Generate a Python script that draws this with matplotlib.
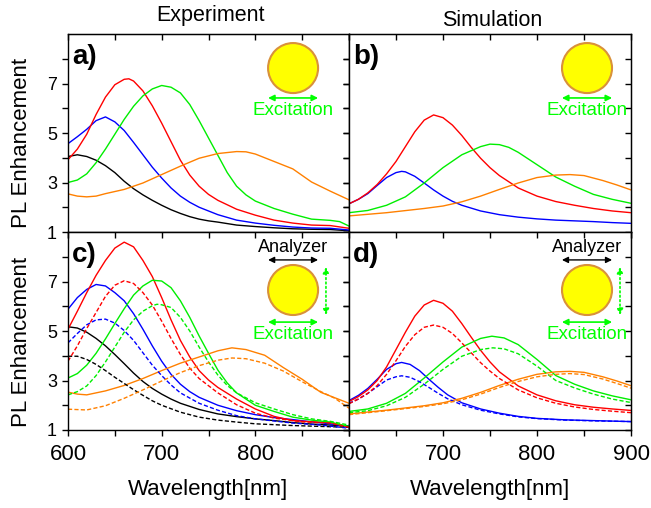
import numpy as np
import matplotlib
matplotlib.use("Agg")
import matplotlib.pyplot as plt
from matplotlib.patches import Ellipse

plt.rcParams['font.family'] = ['Liberation Sans', 'DejaVu Sans']

# colours of the nanorod series
BLACK = "#000000"
BLUE = "#0000ff"
RED = "#ff0000"
GREEN = "#00ee00"
ORANGE = "#ff8000"
ICON_GREEN = "#00ff00"

# ---- panel a) experiment, excitation only
a_black_x = [600, 610, 620, 630, 640, 650, 660, 670, 680, 690, 700, 710, 720, 730, 740, 750, 760, 780, 800, 820, 840, 860, 880, 900]
a_black_y = [4.05, 4.12, 4.05, 3.90, 3.68, 3.40, 3.05, 2.75, 2.50, 2.28, 2.08, 1.90, 1.75, 1.62, 1.52, 1.45, 1.40, 1.28, 1.22, 1.17, 1.13, 1.11, 1.10, 1.05]
a_blue_x = [600, 610, 620, 630, 640, 650, 660, 670, 680, 690, 700, 710, 720, 730, 740, 750, 760, 780, 800, 820, 840, 860, 880, 900]
a_blue_y = [4.57, 4.85, 5.15, 5.50, 5.65, 5.45, 5.10, 4.62, 4.12, 3.62, 3.18, 2.78, 2.45, 2.20, 2.00, 1.85, 1.70, 1.48, 1.36, 1.27, 1.20, 1.16, 1.15, 1.08]
a_red_x = [600, 610, 620, 630, 640, 650, 660, 665, 670, 680, 690, 700, 710, 720, 730, 740, 750, 760, 780, 800, 820, 840, 860, 880, 900]
a_red_y = [3.92, 4.35, 4.95, 5.75, 6.45, 6.95, 7.17, 7.19, 7.10, 6.70, 6.10, 5.40, 4.65, 3.90, 3.30, 2.85, 2.52, 2.28, 1.92, 1.68, 1.48, 1.36, 1.28, 1.26, 1.15]
a_green_x = [600, 610, 620, 630, 640, 650, 660, 670, 680, 690, 700, 710, 720, 730, 740, 750, 760, 770, 780, 790, 800, 820, 840, 860, 880, 890, 900]
a_green_y = [3.00, 3.10, 3.35, 3.80, 4.35, 4.95, 5.55, 6.08, 6.50, 6.78, 6.92, 6.85, 6.62, 6.15, 5.50, 4.80, 4.10, 3.40, 2.85, 2.50, 2.25, 1.95, 1.72, 1.52, 1.47, 1.42, 1.24]
a_orange_x = [600, 610, 620, 630, 640, 660, 680, 700, 720, 740, 760, 780, 790, 800, 820, 840, 860, 880, 900]
a_orange_y = [2.54, 2.45, 2.42, 2.45, 2.55, 2.72, 2.98, 3.32, 3.66, 3.98, 4.17, 4.25, 4.24, 4.15, 3.85, 3.55, 3.02, 2.65, 2.30]

# ---- panel b) simulation, excitation only
b_blue_x = [600, 610, 620, 630, 640, 650, 656, 660, 670, 680, 690, 700, 710, 720, 740, 760, 780, 800, 820, 840, 860, 880, 900]
b_blue_y = [2.14, 2.32, 2.55, 2.88, 3.20, 3.40, 3.45, 3.43, 3.25, 2.98, 2.70, 2.45, 2.24, 2.08, 1.85, 1.70, 1.60, 1.53, 1.48, 1.45, 1.42, 1.38, 1.35]
b_red_x = [600, 610, 620, 630, 640, 650, 660, 670, 680, 690, 700, 710, 720, 730, 740, 750, 760, 780, 800, 820, 840, 860, 880, 900]
b_red_y = [2.14, 2.32, 2.58, 2.92, 3.35, 3.85, 4.45, 5.05, 5.52, 5.73, 5.62, 5.32, 4.90, 4.42, 3.98, 3.60, 3.28, 2.78, 2.45, 2.23, 2.08, 1.95, 1.85, 1.78]
b_green_x = [600, 620, 640, 660, 680, 700, 720, 740, 750, 760, 770, 780, 800, 820, 840, 860, 880, 900]
b_green_y = [1.78, 1.87, 2.08, 2.42, 2.98, 3.60, 4.12, 4.45, 4.55, 4.53, 4.42, 4.22, 3.72, 3.22, 2.85, 2.52, 2.32, 2.16]
b_orange_x = [600, 640, 680, 700, 720, 740, 760, 780, 800, 820, 835, 850, 870, 885, 900]
b_orange_y = [1.65, 1.78, 1.95, 2.05, 2.22, 2.45, 2.72, 2.98, 3.20, 3.30, 3.32, 3.28, 3.08, 2.90, 2.70]

# ---- panel c) experiment with analyzer (solid = parallel, dashed = perpendicular)
c_black_x = [600, 610, 620, 630, 640, 650, 660, 670, 680, 690, 700, 710, 720, 740, 760, 780, 800, 820, 840, 860, 880, 900]
c_black_y = [5.17, 5.12, 4.95, 4.70, 4.40, 4.05, 3.68, 3.30, 2.96, 2.68, 2.45, 2.25, 2.08, 1.83, 1.65, 1.54, 1.45, 1.38, 1.30, 1.24, 1.20, 1.16]
c_blue_x = [600, 610, 620, 630, 640, 650, 660, 670, 680, 690, 700, 710, 720, 730, 740, 760, 780, 800, 820, 840, 860, 880, 900]
c_blue_y = [5.88, 6.35, 6.68, 6.88, 6.82, 6.55, 6.22, 5.70, 5.07, 4.40, 3.78, 3.25, 2.85, 2.55, 2.32, 2.00, 1.78, 1.62, 1.50, 1.42, 1.33, 1.25, 1.14]
c_red_x = [600, 610, 620, 630, 640, 650, 660, 670, 680, 690, 700, 710, 720, 730, 740, 750, 760, 780, 800, 820, 840, 860, 880, 900]
c_red_y = [5.07, 5.80, 6.55, 7.25, 7.85, 8.35, 8.59, 8.40, 7.85, 7.20, 6.35, 5.45, 4.62, 3.95, 3.40, 3.02, 2.72, 2.25, 1.85, 1.55, 1.38, 1.33, 1.30, 1.11]
c_green_x = [600, 610, 620, 630, 640, 650, 660, 670, 680, 690, 700, 710, 720, 730, 740, 750, 760, 770, 780, 800, 820, 840, 860, 880, 900]
c_green_y = [3.10, 3.28, 3.62, 4.10, 4.68, 5.30, 5.90, 6.45, 6.82, 7.05, 7.02, 6.75, 6.22, 5.55, 4.80, 4.10, 3.42, 2.90, 2.50, 2.00, 1.75, 1.52, 1.40, 1.32, 1.14]
c_orange_x = [600, 610, 620, 640, 660, 680, 700, 720, 740, 760, 775, 790, 810, 830, 850, 870, 885, 900]
c_orange_y = [2.53, 2.45, 2.42, 2.58, 2.80, 3.08, 3.40, 3.70, 3.95, 4.20, 4.32, 4.25, 4.02, 3.52, 3.05, 2.52, 2.30, 2.08]

c_black_d_x = [600, 610, 620, 630, 640, 650, 660, 670, 680, 690, 700, 720, 740, 760, 780, 800, 840, 900]
c_black_d_y = [3.98, 3.98, 3.85, 3.65, 3.40, 3.13, 2.88, 2.63, 2.40, 2.18, 2.00, 1.72, 1.52, 1.40, 1.32, 1.25, 1.18, 1.11]
c_blue_d_x = [600, 610, 620, 630, 640, 650, 660, 670, 680, 690, 700, 710, 720, 740, 760, 780, 800, 840, 870, 900]
c_blue_d_y = [4.52, 4.90, 5.25, 5.45, 5.48, 5.32, 5.02, 4.62, 4.12, 3.62, 3.20, 2.82, 2.50, 2.08, 1.80, 1.58, 1.45, 1.28, 1.20, 1.07]
c_red_d_x = [600, 610, 620, 630, 640, 650, 660, 670, 680, 690, 700, 710, 720, 730, 740, 760, 780, 800, 820, 850, 880, 900]
c_red_d_y = [3.78, 4.40, 5.10, 5.75, 6.40, 6.85, 7.03, 6.92, 6.55, 6.05, 5.40, 4.70, 4.05, 3.50, 3.08, 2.50, 2.02, 1.68, 1.48, 1.33, 1.28, 1.11]
c_green_d_x = [600, 610, 620, 630, 640, 650, 660, 670, 680, 690, 695, 700, 710, 720, 730, 740, 750, 760, 770, 780, 800, 820, 840, 860, 880, 900]
c_green_d_y = [2.42, 2.55, 2.78, 3.20, 3.75, 4.35, 4.95, 5.45, 5.80, 6.02, 6.08, 6.06, 5.95, 5.55, 5.00, 4.35, 3.75, 3.22, 2.80, 2.50, 2.10, 1.85, 1.62, 1.45, 1.35, 1.20]
c_orange_d_x = [600, 620, 640, 660, 680, 700, 720, 740, 760, 775, 790, 810, 830, 850, 870, 885, 900]
c_orange_d_y = [1.84, 1.81, 1.98, 2.28, 2.62, 2.98, 3.32, 3.60, 3.82, 3.91, 3.88, 3.70, 3.38, 2.95, 2.55, 2.28, 1.88]

# ---- panel d) simulation with analyzer
d_blue_x = [600, 610, 620, 630, 640, 650, 656, 665, 675, 685, 695, 705, 720, 740, 760, 780, 800, 830, 860, 900]
d_blue_y = [2.19, 2.40, 2.68, 3.05, 3.45, 3.68, 3.73, 3.65, 3.40, 3.05, 2.72, 2.42, 2.10, 1.85, 1.68, 1.55, 1.47, 1.41, 1.38, 1.34]
d_red_x = [600, 610, 620, 630, 640, 650, 660, 670, 680, 690, 700, 710, 720, 730, 740, 750, 760, 780, 800, 820, 840, 860, 880, 900]
d_red_y = [2.15, 2.35, 2.62, 3.00, 3.55, 4.25, 4.95, 5.60, 6.05, 6.24, 6.12, 5.80, 5.30, 4.75, 4.22, 3.75, 3.35, 2.78, 2.42, 2.18, 2.02, 1.92, 1.85, 1.79]
d_green_x = [600, 620, 640, 660, 680, 700, 720, 740, 752, 765, 780, 800, 820, 840, 860, 880, 900]
d_green_y = [1.75, 1.85, 2.08, 2.48, 3.10, 3.75, 4.35, 4.70, 4.79, 4.72, 4.45, 3.85, 3.20, 2.85, 2.58, 2.38, 2.22]
d_orange_x = [600, 640, 680, 700, 720, 740, 760, 780, 800, 820, 835, 850, 870, 885, 900]
d_orange_y = [1.65, 1.80, 1.98, 2.10, 2.28, 2.52, 2.80, 3.05, 3.25, 3.35, 3.37, 3.33, 3.15, 2.98, 2.79]

d_blue_d_x = [600, 610, 620, 630, 640, 650, 656, 665, 675, 685, 695, 705, 720, 740, 760, 780, 800, 830, 860, 900]
d_blue_d_y = [2.08, 2.25, 2.48, 2.75, 3.02, 3.15, 3.19, 3.13, 2.95, 2.72, 2.48, 2.26, 2.02, 1.80, 1.65, 1.53, 1.46, 1.40, 1.37, 1.34]
d_red_d_x = [600, 610, 620, 630, 640, 650, 660, 670, 680, 690, 700, 710, 720, 730, 740, 750, 760, 780, 800, 820, 840, 860, 880, 900]
d_red_d_y = [2.06, 2.25, 2.48, 2.80, 3.25, 3.80, 4.38, 4.85, 5.15, 5.24, 5.15, 4.90, 4.52, 4.12, 3.72, 3.38, 3.08, 2.62, 2.30, 2.08, 1.93, 1.83, 1.76, 1.70]
d_green_d_x = [600, 620, 640, 660, 680, 700, 720, 740, 753, 765, 780, 800, 820, 840, 860, 880, 900]
d_green_d_y = [1.70, 1.78, 1.98, 2.32, 2.85, 3.45, 3.98, 4.25, 4.32, 4.28, 4.08, 3.58, 3.00, 2.70, 2.45, 2.25, 2.11]
d_orange_d_x = [600, 640, 680, 700, 720, 740, 760, 780, 800, 820, 835, 850, 870, 885, 900]
d_orange_d_y = [1.62, 1.78, 1.95, 2.06, 2.22, 2.45, 2.72, 2.96, 3.15, 3.25, 3.28, 3.24, 3.06, 2.88, 2.69]

x_ticks = [600, 700, 800, 900]
y_ticks = [1, 3, 5, 7]

DASH = (0, (3, 1.6))
LW = 1.0

fig = plt.figure(figsize=(6.51, 5.08), dpi=100)
W, H = 651.0, 508.0
ax_a = fig.add_axes([68 / W, 1 - 232 / H, 281 / W, 198 / H])
ax_b = fig.add_axes([349 / W, 1 - 232 / H, 282 / W, 198 / H])
ax_c = fig.add_axes([68 / W, 1 - 430 / H, 281 / W, 198 / H])
ax_d = fig.add_axes([349 / W, 1 - 430 / H, 282 / W, 198 / H])


def setup(ax, show_x, show_y):
    ax.set_xlim(600, 900)
    ax.set_ylim(1, 9)
    ax.set_xticks(x_ticks)
    ax.set_xticks([650, 750, 850], minor=True)
    ax.set_yticks(y_ticks)
    ax.set_yticks([2, 4, 6, 8], minor=True)
    ax.tick_params(which='both', direction='out', length=4, width=1,
                   top=False, right=False)
    ax.tick_params(axis='x', labelsize=16, pad=6)
    ax.tick_params(axis='y', labelsize=13, pad=4)
    if not show_x:
        ax.tick_params(axis='x', labelbottom=False)
    if not show_y:
        ax.tick_params(axis='y', labelleft=False)
    for s in ax.spines.values():
        s.set_linewidth(1.0)
    sx = ax.secondary_xaxis('top')
    sx.set_xticks(x_ticks)
    sx.set_xticks([650, 750, 850], minor=True)
    sx.tick_params(which='both', direction='in', length=4, width=1, labeltop=False)
    sy = ax.secondary_yaxis('right')
    sy.set_yticks(y_ticks)
    sy.set_yticks([2, 4, 6, 8], minor=True)
    sy.tick_params(which='both', direction='in', length=4, width=1, labelright=False)


def icon(ax, cx, cy, w, h, ax_left, ax_right, arrow_y, text_y,
         analyzer=False, an_arrow_y=None, an_text_y=None, vx=None, vy0=None, vy1=None):
    ax.add_patch(Ellipse((cx, cy), w, h, transform=ax.transAxes,
                         facecolor="#ffff00", edgecolor="#d9913a", lw=1.5, zorder=5))
    ax.annotate("", xy=(ax_left, arrow_y), xytext=(ax_right, arrow_y),
                xycoords='axes fraction',
                arrowprops=dict(arrowstyle='<|-|>', color=ICON_GREEN, lw=1.2,
                                mutation_scale=9, shrinkA=0, shrinkB=0))
    ax.text(cx, text_y, "Excitation", transform=ax.transAxes, color=ICON_GREEN,
            fontsize=13.5, ha='center', va='center')
    if analyzer:
        ax.annotate("", xy=(ax_left, an_arrow_y), xytext=(ax_right, an_arrow_y),
                    xycoords='axes fraction',
                    arrowprops=dict(arrowstyle='<|-|>', color='black', lw=1.0,
                                    mutation_scale=9, shrinkA=0, shrinkB=0))
        ax.text(cx, an_text_y, "Analyzer", transform=ax.transAxes, color='black',
                fontsize=13, ha='center', va='center')
        ax.annotate("", xy=(vx, vy0), xytext=(vx, vy1), xycoords='axes fraction',
                    arrowprops=dict(arrowstyle='<|-|>', color=ICON_GREEN, lw=1.2,
                                    linestyle=':', mutation_scale=9,
                                    shrinkA=0, shrinkB=0))


# panel a
setup(ax_a, False, True)
ax_a.plot(a_black_x, a_black_y, color=BLACK, lw=LW)
ax_a.plot(a_blue_x, a_blue_y, color=BLUE, lw=LW)
ax_a.plot(a_red_x, a_red_y, color=RED, lw=LW)
ax_a.plot(a_green_x, a_green_y, color=GREEN, lw=LW)
ax_a.plot(a_orange_x, a_orange_y, color=ORANGE, lw=LW)
icon(ax_a, 0.801, 0.828, 50 / 281, 50 / 198, 0.712, 0.890, 0.677, 0.616)

# panel b
setup(ax_b, False, False)
ax_b.plot(b_blue_x, b_blue_y, color=BLUE, lw=LW)
ax_b.plot(b_red_x, b_red_y, color=RED, lw=LW)
ax_b.plot(b_green_x, b_green_y, color=GREEN, lw=LW)
ax_b.plot(b_orange_x, b_orange_y, color=ORANGE, lw=LW)
icon(ax_b, 0.844, 0.828, 50 / 282, 50 / 198, 0.755, 0.933, 0.677, 0.616)

# panel c
setup(ax_c, True, True)
ax_c.set_xticklabels(["600", "700", "800", ""])
ax_c.plot(c_black_x, c_black_y, color=BLACK, lw=LW)
ax_c.plot(c_blue_x, c_blue_y, color=BLUE, lw=LW)
ax_c.plot(c_red_x, c_red_y, color=RED, lw=LW)
ax_c.plot(c_green_x, c_green_y, color=GREEN, lw=LW)
ax_c.plot(c_orange_x, c_orange_y, color=ORANGE, lw=LW)
ax_c.plot(c_black_d_x, c_black_d_y, color=BLACK, lw=LW, ls=DASH)
ax_c.plot(c_blue_d_x, c_blue_d_y, color=BLUE, lw=LW, ls=DASH)
ax_c.plot(c_red_d_x, c_red_d_y, color=RED, lw=LW, ls=DASH)
ax_c.plot(c_green_d_x, c_green_d_y, color=GREEN, lw=LW, ls=DASH)
ax_c.plot(c_orange_d_x, c_orange_d_y, color=ORANGE, lw=LW, ls=DASH)
icon(ax_c, 0.801, 0.707, 50 / 281, 50 / 198, 0.712, 0.890, 0.545, 0.480,
     analyzer=True, an_arrow_y=0.859, an_text_y=0.924, vx=0.918, vy0=0.581, vy1=0.823)

# panel d
setup(ax_d, True, False)
ax_d.plot(d_blue_x, d_blue_y, color=BLUE, lw=LW)
ax_d.plot(d_red_x, d_red_y, color=RED, lw=LW)
ax_d.plot(d_green_x, d_green_y, color=GREEN, lw=LW)
ax_d.plot(d_orange_x, d_orange_y, color=ORANGE, lw=LW)
ax_d.plot(d_blue_d_x, d_blue_d_y, color=BLUE, lw=LW, ls=DASH)
ax_d.plot(d_red_d_x, d_red_d_y, color=RED, lw=LW, ls=DASH)
ax_d.plot(d_green_d_x, d_green_d_y, color=GREEN, lw=LW, ls=DASH)
ax_d.plot(d_orange_d_x, d_orange_d_y, color=ORANGE, lw=LW, ls=DASH)
icon(ax_d, 0.844, 0.707, 50 / 282, 50 / 198, 0.755, 0.933, 0.545, 0.480,
     analyzer=True, an_arrow_y=0.859, an_text_y=0.924, vx=0.961, vy0=0.581, vy1=0.823)

# panel letters
for ax, lab in [(ax_a, "a)"), (ax_b, "b)"), (ax_c, "c)"), (ax_d, "d)")]:
    ax.text(0.015, 0.885, lab, transform=ax.transAxes, fontsize=20,
            fontweight='bold', ha='left', va='center')

# titles and axis labels
fig.text(210 / W, 1 - 15 / H, "Experiment", fontsize=15.5, ha='center', va='center')
fig.text(492 / W, 1 - 20 / H, "Simulation", fontsize=15.5, ha='center', va='center')
fig.text(22 / W, 1 - 143 / H, "PL Enhancement", fontsize=16, rotation=90,
         ha='center', va='center')
fig.text(22 / W, 1 - 342 / H, "PL Enhancement", fontsize=16, rotation=90,
         ha='center', va='center')
fig.text(208 / W, 1 - 490 / H, "Wavelength[nm]", fontsize=16, ha='center', va='center')
fig.text(490 / W, 1 - 490 / H, "Wavelength[nm]", fontsize=16, ha='center', va='center')

fig.savefig("out.png", dpi=100)
